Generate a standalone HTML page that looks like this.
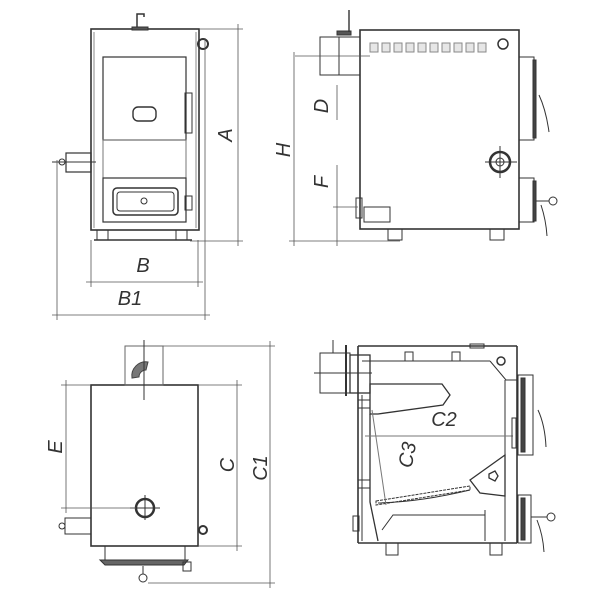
<!DOCTYPE html>
<html><head><style>html,body{margin:0;padding:0;background:#fff}svg{display:block}
text{font-family:"Liberation Sans",sans-serif;font-style:italic;font-size:20px;fill:#333;stroke:none;font-weight:normal;text-anchor:middle;dominant-baseline:central}</style></head>
<body>
<svg width="600" height="600" viewBox="0 0 600 600" xmlns="http://www.w3.org/2000/svg" fill="none" stroke="#333" stroke-width="1">
<g>
<rect x="91" y="29" width="108" height="201" stroke-width="1.6"/>
<line x1="94" y1="32" x2="94" y2="228" stroke="#888"/>
<line x1="196" y1="32" x2="196" y2="228" stroke="#888"/>
<path d="M137 29 V14 H144 V17" stroke-width="1.5"/>
<rect x="132" y="27" width="16" height="3" fill="#555"/>
<rect x="103" y="57" width="83" height="83" stroke-width="1.2"/>
<rect x="103" y="140" width="83" height="38" stroke="#777"/>
<rect x="103" y="178" width="83" height="44" stroke-width="1.2"/>
<rect x="113" y="188" width="65" height="27" rx="4" stroke-width="1.5"/>
<rect x="117" y="192" width="57" height="19" rx="3"/>
<circle cx="144" cy="201" r="3"/>
<rect x="133" y="107" width="23" height="14" rx="5" stroke-width="1.4"/>
<rect x="185" y="93" width="7" height="40"/>
<rect x="185" y="196" width="7" height="14"/>
<circle cx="203" cy="44" r="5" stroke-width="2"/>
<rect x="66" y="153" width="25" height="19" stroke-width="1.2"/>
<circle cx="62" cy="162" r="3"/>
<line x1="52" y1="162" x2="96" y2="162"/>
<rect x="97" y="230" width="11" height="10"/><rect x="176" y="230" width="11" height="10"/>
<line x1="94" y1="240" x2="192" y2="240" stroke-width="1.4"/>
<g stroke="#555" stroke-width="0.8">
<line x1="200" y1="29" x2="243" y2="29"/><line x1="190" y1="241" x2="243" y2="241"/>
<line x1="238" y1="24" x2="238" y2="246"/>
<line x1="91" y1="240" x2="91" y2="287"/><line x1="198" y1="240" x2="198" y2="287"/>
<line x1="86" y1="282" x2="203" y2="282"/>
<line x1="57" y1="160" x2="57" y2="320"/><line x1="205" y1="38" x2="205" y2="320"/>
<line x1="52" y1="315" x2="210" y2="315"/>
</g>
<text x="226" y="135" transform="rotate(-90 226 135)">A</text>
<text x="143" y="266">B</text>
<text x="130" y="299">B1</text>
</g>
<g>
<rect x="360" y="30" width="159" height="199" stroke-width="1.6"/>
<g fill="#e6e6e6" stroke="#888">
<rect x="370" y="43" width="8" height="9"/><rect x="382" y="43" width="8" height="9"/><rect x="394" y="43" width="8" height="9"/><rect x="406" y="43" width="8" height="9"/><rect x="418" y="43" width="8" height="9"/><rect x="430" y="43" width="8" height="9"/><rect x="442" y="43" width="8" height="9"/><rect x="454" y="43" width="8" height="9"/><rect x="466" y="43" width="8" height="9"/><rect x="478" y="43" width="8" height="9"/>
</g>
<circle cx="503" cy="44" r="5" stroke-width="1.5"/>
<rect x="320" y="37" width="40" height="38"/>
<line x1="339" y1="37" x2="339" y2="75"/>
<rect x="337" y="31" width="14" height="4" fill="#555"/>
<line x1="349" y1="10" x2="349" y2="32" stroke-width="1.4"/>
<line x1="295" y1="56" x2="370" y2="56" stroke="#555" stroke-width="0.8"/>
<circle cx="500" cy="162" r="10" stroke-width="2.5"/><circle cx="500" cy="162" r="4"/>
<line x1="485" y1="162" x2="517" y2="162"/><line x1="500" y1="146" x2="500" y2="178"/>
<rect x="519" y="57" width="15" height="83"/><rect x="533" y="60" width="3" height="78" fill="#444"/>
<path d="M539 95 Q546 110 549 132"/>
<rect x="519" y="178" width="15" height="44"/><rect x="533" y="181" width="3" height="40" fill="#444"/>
<circle cx="553" cy="201" r="4"/><line x1="536" y1="201" x2="549" y2="201"/>
<path d="M541 205 Q546 220 547 236"/>
<rect x="364" y="207" width="26" height="15"/>
<rect x="356" y="198" width="6" height="20"/>
<rect x="388" y="229" width="14" height="11"/><rect x="490" y="229" width="14" height="11"/>
<g stroke="#555" stroke-width="0.8">
<line x1="294" y1="52" x2="294" y2="246"/>
<line x1="289" y1="241" x2="400" y2="241"/>
<line x1="337" y1="85" x2="337" y2="120"/><line x1="337" y1="165" x2="337" y2="246"/>
<line x1="333" y1="207" x2="358" y2="207"/>
</g>
<text x="284" y="150" transform="rotate(-90 284 150)">H</text>
<text x="322" y="106" transform="rotate(-90 322 106)">D</text>
<text x="322" y="182" transform="rotate(-90 322 182)">F</text>
</g>
<g>
<rect x="91" y="385" width="107" height="161" stroke-width="1.6"/>
<rect x="125" y="346" width="38" height="39" stroke="#666"/>
<path d="M132 378 A14 14 0 0 1 148 362 L146 370 A7 7 0 0 0 139 377 Z" fill="#777" stroke="#444"/>
<line x1="144" y1="340" x2="144" y2="400"/>
<circle cx="145" cy="508" r="9" stroke-width="2.5"/>
<line x1="130" y1="508" x2="160" y2="508"/><line x1="145" y1="495" x2="145" y2="520"/>
<rect x="65" y="518" width="26" height="16"/>
<circle cx="62" cy="526" r="3"/>
<circle cx="203" cy="530" r="4" stroke-width="2"/>
<rect x="105" y="546" width="80" height="14"/>
<path d="M100 560 H188 L184 565 H105 Z" fill="#666"/>
<circle cx="143" cy="578" r="4"/><line x1="143" y1="566" x2="143" y2="574"/>
<rect x="183" y="562" width="8" height="9"/>
<g stroke="#555" stroke-width="0.8">
<line x1="163" y1="346" x2="275" y2="346"/><line x1="148" y1="583" x2="275" y2="583"/>
<line x1="270" y1="341" x2="270" y2="588"/>
<line x1="198" y1="385" x2="242" y2="385"/><line x1="198" y1="546" x2="242" y2="546"/>
<line x1="237" y1="380" x2="237" y2="551"/>
<line x1="61" y1="385" x2="91" y2="385"/><line x1="61" y1="508" x2="136" y2="508"/>
<line x1="66" y1="380" x2="66" y2="513"/>
</g>
<text x="56" y="447" transform="rotate(-90 56 447)">E</text>
<text x="228" y="465" transform="rotate(-90 228 465)">C</text>
<text x="261" y="468" transform="rotate(-90 261 468)">C1</text>
</g>
<g>
<line x1="358" y1="346" x2="517" y2="346" stroke-width="1.6"/>
<line x1="358" y1="346" x2="358" y2="543" stroke-width="1.6"/>
<line x1="517" y1="346" x2="517" y2="543" stroke-width="1.6"/>
<line x1="358" y1="543" x2="517" y2="543" stroke-width="1.6"/>
<line x1="362" y1="361" x2="490" y2="361"/>
<path d="M490 361 L506 380 H517"/>
<circle cx="501" cy="361" r="4" stroke-width="1.5"/>
<rect x="405" y="352" width="8" height="9"/><rect x="452" y="352" width="8" height="9"/>
<rect x="470" y="344" width="14" height="4"/>
<rect x="320" y="353" width="30" height="40"/>
<rect x="350" y="355" width="20" height="38" stroke-width="1.3"/>
<line x1="346" y1="345" x2="346" y2="396" stroke-width="2"/>
<line x1="314" y1="373" x2="372" y2="373"/>
<line x1="333" y1="340" x2="333" y2="353"/>
<path d="M370 384 H442 L450 395 L443 405 L378 414 L370 414 Z" stroke-width="1.3"/>
<path d="M370 414 V502 L378 541" stroke-width="1.3"/>
<line x1="362" y1="395" x2="362" y2="541"/>
<rect x="358" y="400" width="12" height="8"/><rect x="358" y="480" width="12" height="8"/>
<rect x="353" y="516" width="6" height="15"/>
<path d="M376 501 L470 486 L470 490 L376 505 Z" stroke-dasharray="3 1"/>
<path d="M378 503 Q420 502 470 490"/>
<path d="M470 480 L505 455 V496 L480 493 Z" stroke-width="1.3"/>
<path d="M489 474 l6 -3 l3 5 l-3 5 l-6 -3 z" stroke-width="1.3"/>
<line x1="505" y1="380" x2="505" y2="455"/>
<line x1="505" y1="496" x2="505" y2="541"/>
<path d="M382 530 L393 515 H485 V510"/>
<line x1="485" y1="515" x2="485" y2="541"/>
<line x1="372" y1="410" x2="386" y2="505" stroke="#777"/>
<line x1="365" y1="436" x2="513" y2="436" stroke="#777"/>
<rect x="512" y="418" width="4" height="30"/>
<rect x="518" y="375" width="15" height="80"/><rect x="521" y="378" width="4" height="74" fill="#444"/>
<path d="M538 410 Q545 425 546 447"/>
<rect x="518" y="495" width="13" height="48"/><rect x="521" y="498" width="4" height="42" fill="#444"/>
<circle cx="551" cy="517" r="4"/><line x1="531" y1="517" x2="547" y2="517"/>
<path d="M537 520 Q543 535 544 552"/>
<rect x="386" y="543" width="12" height="12"/><rect x="490" y="543" width="12" height="12"/>
<text x="444" y="420">C2</text>
<text x="408" y="455" transform="rotate(-80 408 455)">C3</text>
</g>
</svg>
</body></html>
